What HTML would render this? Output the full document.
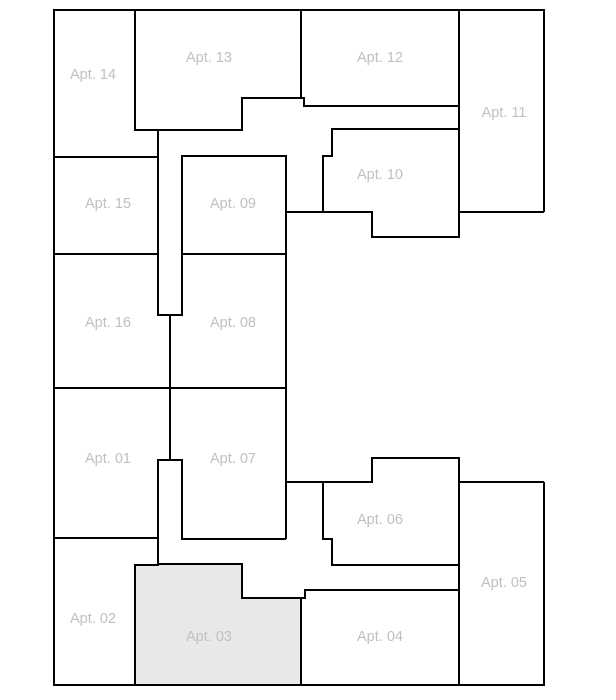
<!DOCTYPE html>
<html><head><meta charset="utf-8"><style>
html,body{margin:0;padding:0;background:#fff;}
svg{display:block;}
text{font-family:"Liberation Sans",Arial,sans-serif;font-size:14.5px;fill:#c0c0c0;text-anchor:middle;dominant-baseline:middle;}
</style></head><body>
<svg width="616" height="700" viewBox="0 0 616 700">
<polygon points="135,565 158,565 158,564 242,564 242,598 301,598 301,685 135,685" fill="#e8e8e8"/>
<g fill="none" stroke="#000" stroke-width="2" stroke-linejoin="miter">
<polyline points="544,212 544,10 54,10 54,685 544,685 544,482"/>
<polyline points="135,10 135,130 158,130 242,130 242,98 304,98 304,106 459,106"/>
<line x1="301" y1="10" x2="301" y2="98"/>
<polyline points="459,10 459,212 544,212"/>
<polyline points="459,129 332,129 332,156 323,156 323,212"/>
<polyline points="286,212 372,212 372,237 459,237 459,212"/>
<polyline points="158,130 158,315 170,315 182,315 182,156 286,156 286,254"/>
<line x1="54" y1="157" x2="158" y2="157"/>
<line x1="54" y1="254" x2="158" y2="254"/>
<line x1="182" y1="254" x2="286" y2="254"/>
<line x1="170" y1="315" x2="170" y2="460"/>
<polyline points="286,254 286,539"/>
<line x1="54" y1="388" x2="286" y2="388"/>
<polyline points="158,565 158,460 182,460 182,539 286,539"/>
<line x1="54" y1="538" x2="158" y2="538"/>
<polyline points="286,482 323,482 323,539 332,539 332,565 459,565 459,458 372,458 372,482 323,482"/>
<polyline points="459,482 544,482"/>
<line x1="459" y1="565" x2="459" y2="685"/>
<polyline points="459,590 305,590 305,598 301,598 301,685"/>
<polyline points="135,685 135,565 158,565 158,564 242,564 242,598 301,598"/>
</g>
<text x="93" y="75">Apt. 14</text>
<text x="209" y="58">Apt. 13</text>
<text x="380" y="58">Apt. 12</text>
<text x="504" y="113">Apt. 11</text>
<text x="380" y="175">Apt. 10</text>
<text x="108" y="204">Apt. 15</text>
<text x="233" y="204">Apt. 09</text>
<text x="108" y="323">Apt. 16</text>
<text x="233" y="323">Apt. 08</text>
<text x="108" y="459">Apt. 01</text>
<text x="233" y="459">Apt. 07</text>
<text x="380" y="520">Apt. 06</text>
<text x="504" y="583">Apt. 05</text>
<text x="93" y="619">Apt. 02</text>
<text x="209" y="637">Apt. 03</text>
<text x="380" y="637">Apt. 04</text>
</svg>
</body></html>
